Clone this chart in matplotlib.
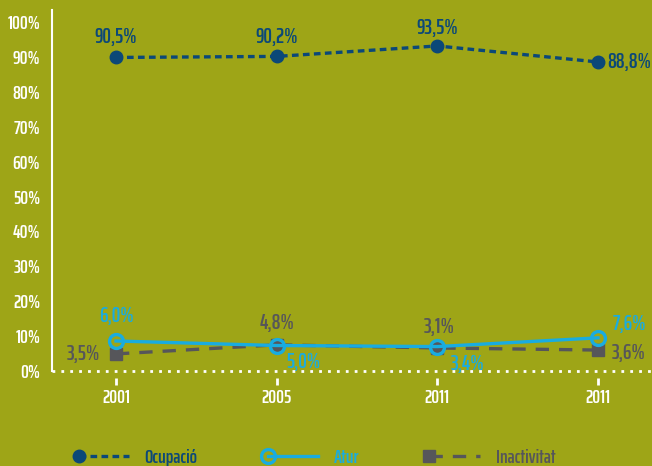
import matplotlib
matplotlib.use('Agg')
import matplotlib.pyplot as plt
from matplotlib import font_manager
from matplotlib.legend_handler import HandlerLine2D

# data (line positions, labels as printed)
years = ['2001', '2005', '2011', '2011']
ocupacio = [89.9, 90.2, 93.2, 88.6]
atur = [8.6, 7.3, 7.0, 9.5]
inactivitat = [4.9, 7.5, 6.6, 6.0]
ocupacio_labels = ['90,5%', '90,2%', '93,5%', '88,8%']
atur_labels = ['6,0%', '5,0%', '3,4%', '7,6%']
inactivitat_labels = ['3,5%', '4,8%', '3,1%', '3,6%']
yticks = [0, 10, 20, 30, 40, 50, 60, 70, 80, 90, 100]

bg = '#9ea517'
navy = '#0b4878'
cyan = '#19ace0'
grey = '#56565a'

names = set(f.name for f in font_manager.fontManager.ttflist)
fam = 'DejaVu Sans'
for cand in ['Saira ExtraCondensed', 'Sofia Sans Extra Condensed', 'Barlow Condensed']:
    if cand in names:
        fam = cand
        break
plt.rcParams['font.family'] = [fam, 'DejaVu Sans']
plt.rcParams['font.weight'] = 'semibold'


class LeftMarker(HandlerLine2D):
    # put the single legend marker at the left end of the line
    def create_artists(self, *args, **kwargs):
        arts = super().create_artists(*args, **kwargs)
        for a in arts:
            a.set_markevery([0])
        return arts


fig = plt.figure(figsize=(6.52, 4.66), dpi=100, facecolor=bg)
ax = fig.add_axes([0.0798, 0.2039, 0.9202, 0.7746])
ax.set_facecolor(bg)

x = list(range(len(years)))
ax.plot(x, ocupacio, color=navy, lw=2.4, ls=(0, (2.0, 1.3)), marker='o', ms=9,
        mfc=navy, mec=navy, label='Ocupació', zorder=3)
ax.plot(x, inactivitat, color=grey, lw=2.4, ls=(0, (4.0, 3.0)), marker='s', ms=8,
        mfc=grey, mec=grey, label='Inactivitat', zorder=3)
ax.plot(x, atur, color=cyan, lw=2.4, ls='-', marker='o', ms=10, mfc='none',
        mec=cyan, mew=2.4, label='Atur', zorder=4)

fs = 15.5
ocu_off = [(0, 20, 'center'), (0, 19, 'center'), (0, 18, 'center'), (9, 0, 'left')]
for i, (dx, dy, ha) in enumerate(ocu_off):
    ax.annotate(ocupacio_labels[i], (x[i], ocupacio[i]), xytext=(dx, dy),
                textcoords='offset pixels', ha=ha, va='center', color=navy, fontsize=fs)
atu_off = [(0, 25, 'center'), (27, -16, 'center'), (30, -17, 'center'), (15, 14, 'left')]
for i, (dx, dy, ha) in enumerate(atu_off):
    ax.annotate(atur_labels[i], (x[i], atur[i]), xytext=(dx, dy),
                textcoords='offset pixels', ha=ha, va='center', color=cyan, fontsize=fs)
ina_off = [(-16, 0, 'right'), (0, 22, 'center'), (2, 21, 'center'), (14, -3, 'left')]
for i, (dx, dy, ha) in enumerate(ina_off):
    ax.annotate(inactivitat_labels[i], (x[i], inactivitat[i]), xytext=(dx, dy),
                textcoords='offset pixels', ha=ha, va='center', color=grey, fontsize=fs)

ax.set_xlim(-0.398, 3.336)
ax.set_ylim(0, 103.5)
ax.set_xticks(x)
ax.set_xticklabels(years)
ax.set_yticks(yticks)
ax.set_yticklabels([f'{v}%' for v in yticks])
ax.tick_params(axis='y', length=0, pad=8.5, labelcolor='white', labelsize=14)
ax.tick_params(axis='x', length=5, width=2, color='white', pad=3,
               labelcolor='white', labelsize=14)

for s in ['top', 'right']:
    ax.spines[s].set_visible(False)
ax.spines['left'].set_color('white')
ax.spines['left'].set_linewidth(1.5)
ax.spines['bottom'].set_position(('outward', 5))
ax.spines['bottom'].set_color('none')
ax.axhline(0, color='white', lw=2, ls=(0, (1, 2.2)), clip_on=False, zorder=5)

h, l = ax.get_legend_handles_labels()
order = [0, 2, 1]
leg = fig.legend([h[i] for i in order], [l[i] for i in order], loc='center',
                 bbox_to_anchor=(0.486, 0.018), ncol=3, frameon=False,
                 fontsize=14, handlelength=2.6, handletextpad=0.8, columnspacing=3.6,
                 handler_map={h[i]: LeftMarker() for i in range(3)},
                 labelcolor=[navy, cyan, grey])

fig.savefig('out.png', dpi=100, facecolor=bg)
